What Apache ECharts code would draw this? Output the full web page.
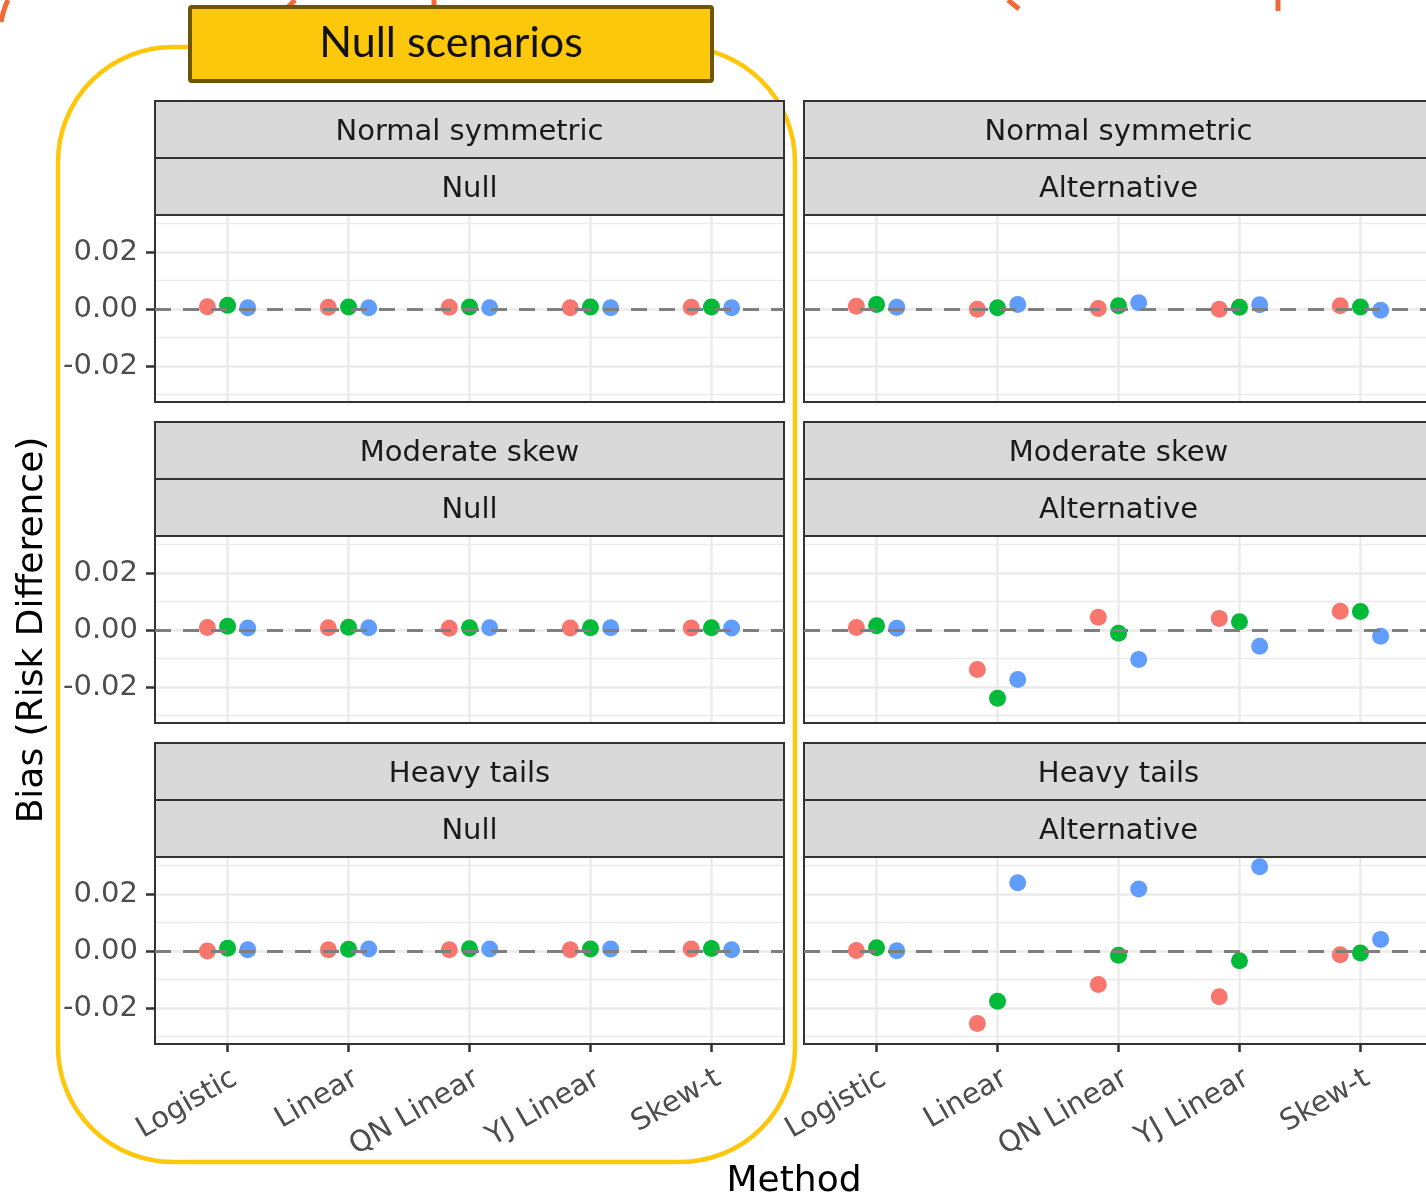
<!DOCTYPE html>
<html>
<head>
<meta charset="utf-8">
<script src="https://cdn.jsdelivr.net/npm/echarts@6/dist/echarts.min.js"></script>
<style>
  html, body { margin: 0; padding: 0; background: #ffffff; }
  #chart { width: 1426px; height: 1199px; }
</style>
</head>
<body>
<div id="chart"></div>
<script>
// Facet labels and x categories
const methods = ['Logistic', 'Linear', 'QN Linear', 'YJ Linear', 'Skew-t'];
const distributions = ['Normal symmetric', 'Moderate skew', 'Heavy tails'];
const hypotheses = ['Null', 'Alternative'];
const yTicks = [-0.02, 0, 0.02];
const yMinorTicks = [-0.03, -0.01, 0.01, 0.03];
const groupColors = ['#F8766D', '#00BA38', '#619CFF'];

// Bias (risk difference) per method, one array per facet and group
const normalNullRed   = [0.0008, 0.0006, 0.0006, 0.0005, 0.0006];
const normalNullGreen = [0.0013, 0.0007, 0.0007, 0.0007, 0.0007];
const normalNullBlue  = [0.0005, 0.0005, 0.0005, 0.0005, 0.0005];

const normalAltRed    = [0.0010, -0.0001, 0.0002, -0.0001, 0.0012];
const normalAltGreen  = [0.0016, 0.0005, 0.0012, 0.0006, 0.0007];
const normalAltBlue   = [0.0006, 0.0016, 0.0022, 0.0015, -0.0004];

const skewNullRed     = [0.0009, 0.0008, 0.0006, 0.0007, 0.0007];
const skewNullGreen   = [0.0013, 0.0010, 0.0008, 0.0008, 0.0008];
const skewNullBlue    = [0.0007, 0.0008, 0.0008, 0.0008, 0.0007];

const skewAltRed      = [0.0009, -0.0138, 0.0045, 0.0041, 0.0066];
const skewAltGreen    = [0.0015, -0.0239, -0.0011, 0.0029, 0.0065];
const skewAltBlue     = [0.0006, -0.0173, -0.0103, -0.0057, -0.0022];

const heavyNullRed    = [0.0000, 0.0005, 0.0005, 0.0005, 0.0007];
const heavyNullGreen  = [0.0010, 0.0006, 0.0008, 0.0007, 0.0009];
const heavyNullBlue   = [0.0005, 0.0007, 0.0007, 0.0007, 0.0005];

const heavyAltRed     = [0.0002, -0.0254, -0.0117, -0.0160, -0.0013];
const heavyAltGreen   = [0.0012, -0.0176, -0.0015, -0.0034, -0.0007];
const heavyAltBlue    = [0.0001, 0.0240, 0.0218, 0.0296, 0.0041];

const facetSeries = [
  [[normalNullRed, normalNullGreen, normalNullBlue], [normalAltRed, normalAltGreen, normalAltBlue]],
  [[skewNullRed, skewNullGreen, skewNullBlue], [skewAltRed, skewAltGreen, skewAltBlue]],
  [[heavyNullRed, heavyNullGreen, heavyNullBlue], [heavyAltRed, heavyAltGreen, heavyAltBlue]]
];

// Layout
const panelLeft = [155, 804];
const panelWidth = 629;
const panelTop = [215, 536, 857];
const panelHeight = 187;
const stripHeight = 57;
const yMin = -0.0326, yMax = 0.033;
const dodge = [-0.167, 0, 0.167];
const FONT = 'DejaVu Sans';
const gridColor = '#EBEBEB';
const darkLine = '#333333';

const grids = [], xAxes = [], yAxes = [], series = [], graphics = [];

// Decorative frame around the null-scenario column
graphics.push({
  type: 'rect', z: 1,
  shape: { x: 58, y: 47, width: 737, height: 1115, r: 115 },
  style: { fill: 'none', stroke: '#FFC70B', lineWidth: 4.5 }
});

distributions.forEach((dist, row) => {
  hypotheses.forEach((hyp, col) => {
    const g = row * 2 + col;
    const bottom = row === distributions.length - 1;
    const left = col === 0;
    grids.push({
      left: panelLeft[col], top: panelTop[row], width: panelWidth, height: panelHeight,
      outerBoundsMode: 'none', containLabel: false,
      show: true, borderColor: darkLine, borderWidth: 2, backgroundColor: 'transparent', z: 2
    });
    xAxes.push({
      type: 'value', gridIndex: g, min: 0.4, max: 5.6, position: 'bottom',
      axisLine: { show: false, onZero: false },
      axisTick: { show: bottom, customValues: [1, 2, 3, 4, 5], length: 8,
                  lineStyle: { color: darkLine, width: 2.5 } },
      axisLabel: { show: bottom, customValues: [1, 2, 3, 4, 5],
                   formatter: v => methods[Math.round(v) - 1],
                   rotate: 30, align: 'right', verticalAlign: 'top', margin: 20,
                   fontFamily: FONT, fontSize: 29, color: '#4D4D4D' },
      splitLine: { show: true, lineStyle: { color: gridColor, width: 2.5 } }
    });
    // major y axis (labels, ticks, major grid)
    yAxes.push({
      type: 'value', gridIndex: g, min: yMin, max: yMax, position: 'left',
      axisLine: { show: false, onZero: false },
      axisTick: { show: left, customValues: yTicks, length: 9,
                  lineStyle: { color: darkLine, width: 2.5 } },
      axisLabel: { show: left, customValues: yTicks, margin: 17,
                   formatter: v => v.toFixed(2),
                   fontFamily: FONT, fontSize: 29, color: '#4D4D4D' },
      splitLine: { show: true, lineStyle: { color: gridColor, width: 2.5 } },
      z: 1
    });
    // minor y grid
    yAxes.push({
      type: 'value', gridIndex: g, min: yMin, max: yMax, position: 'right',
      axisLine: { show: false, onZero: false },
      axisTick: { show: false, customValues: yMinorTicks },
      axisLabel: { show: false },
      splitLine: { show: true, lineStyle: { color: gridColor, width: 1.4 } },
      z: 0
    });
    // dashed reference line at zero bias
    series.push({
      type: 'scatter', xAxisIndex: g, yAxisIndex: g * 2, data: [], z: 2,
      markLine: {
        silent: true, symbol: 'none', animation: false,
        label: { show: false },
        lineStyle: { color: '#7F7F7F', type: [16, 12], width: 3 },
        emphasis: { disabled: true },
        data: [{ yAxis: 0 }]
      }
    });
    facetSeries[row][col].forEach((vals, k) => {
      series.push({
        type: 'scatter', xAxisIndex: g, yAxisIndex: g * 2, z: 3,
        symbol: 'circle', symbolSize: 17,
        itemStyle: { color: groupColors[k], opacity: 1 },
        data: vals.map((v, i) => [i + 1 + dodge[k], v])
      });
    });
    // facet strips
    const sy = panelTop[row] - 2 * stripHeight;
    [dist, hyp].forEach((label, s) => {
      graphics.push({
        type: 'rect', z: 5,
        shape: { x: panelLeft[col], y: sy + s * stripHeight, width: panelWidth, height: stripHeight },
        style: { fill: '#D9D9D9', stroke: darkLine, lineWidth: 2 }
      });
      graphics.push({
        type: 'text', z: 6,
        x: panelLeft[col] + panelWidth / 2, y: sy + s * stripHeight + stripHeight / 2 + 3,
        style: { text: label, fontFamily: FONT, fontSize: 29, fill: '#1A1A1A',
                 align: 'center', verticalAlign: 'middle' }
      });
    });
  });
});

// Axis titles
graphics.push({
  type: 'text', z: 6, x: 794, y: 1182,
  style: { text: 'Method', fontFamily: FONT, fontSize: 36, fill: '#000000',
           align: 'center', verticalAlign: 'middle' }
});
graphics.push({
  type: 'text', z: 6, x: 33, y: 630, rotation: Math.PI / 2,
  style: { text: 'Bias (Risk Difference)', fontFamily: FONT, fontSize: 36, fill: '#000000',
           align: 'center', verticalAlign: 'middle' }
});

// Column banner
graphics.push({
  type: 'rect', z: 10,
  shape: { x: 190, y: 7, width: 522, height: 74, r: 2 },
  style: { fill: '#FDC70C', stroke: '#6E5600', lineWidth: 4 }
});
graphics.push({
  type: 'text', z: 11, x: 451, y: 43,
  style: { text: 'Null scenarios', fontFamily: 'Lato', fontSize: 43, fill: '#111111',
           align: 'center', verticalAlign: 'middle' }
});

// Orange strokes peeking in from the heading above
const orange = '#F26A36';
[
  [[8, 0], [4, 10], [1, 22]],
  [[295, 0], [288, 7]],
  [[434, 0], [434, 5]],
  [[1008, 0], [1019, 9]],
  [[1278, 0], [1278, 11]]
].forEach(pts => {
  graphics.push({
    type: 'polyline', z: 4, shape: { points: pts, smooth: 0.4 },
    style: { stroke: orange, lineWidth: 5, fill: 'none' }
  });
});

const chart = echarts.init(document.getElementById('chart'), null, { renderer: 'canvas' });
chart.setOption({
  animation: false,
  backgroundColor: '#ffffff',
  grid: grids,
  xAxis: xAxes,
  yAxis: yAxes,
  series: series,
  graphic: { elements: graphics }
});
</script>
</body>
</html>
